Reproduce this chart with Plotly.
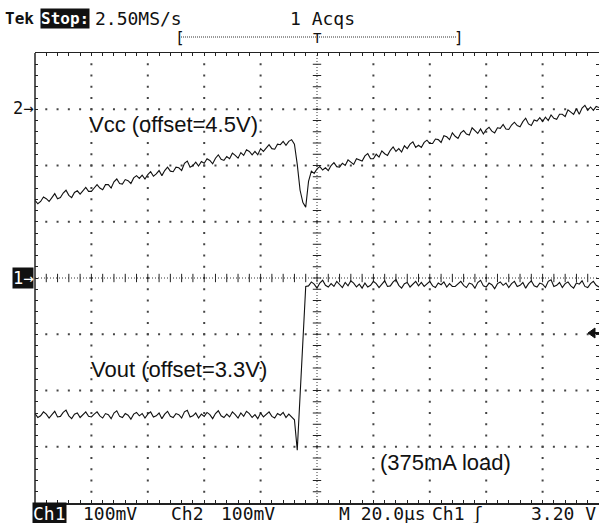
import plotly.graph_objects as go

# ---------------- figure geometry ----------------
W, H = 599, 523
ML, MR, MT, MB = 35, 0, 53, 20
PW, PH = W - ML - MR, H - MT - MB

# ---------------- scope settings ----------------
t_start_us = -100          # left edge of screen (trigger at centre)
sample_us = 1.0            # displayed sample spacing
time_div_us = 20
ch1_mv_div = 100           # Vout channel, offset 3.3 V, marker at centre
ch2_mv_div = 100           # Vcc channel, offset 4.5 V, marker 3 div above centre
ch2_marker_div = 3

# ---------------- data (mV relative to channel offset) ----------------
vcc_mv = [
    -162, -168, -164, -156, -159, -164, -157, -150, -159, -157, -149, -144, -153, -157, -148, -145, -151, -145, -139, -146,
    -146, -140, -134, -140, -143, -134, -134, -140, -129, -124, -132, -133, -125, -127, -132, -122, -118, -123, -117, -124,
    -116, -111, -119, -115, -109, -118, -109, -103, -110, -111, -103, -104, -109, -96, -92, -103, -100, -94, -101, -93,
    -96, -88, -91, -97, -87, -81, -89, -91, -84, -88, -78, -82, -87, -77, -82, -72, -75, -81, -75, -81,
    -70, -75, -69, -63, -70, -71, -62, -63, -57, -64, -57, -54,
    -62, -98, -144, -166, -174, -128, -110, -114, -106,
    -102, -108, -104, -109, -100, -95, -102, -103, -96, -100, -90, -94, -98, -88, -90, -92, -83, -79, -88, -88,
    -80, -85, -74, -79, -82, -73, -67, -75, -70, -76, -65, -70, -62, -58, -68, -64, -68, -59, -55, -61,
    -61, -53, -54, -59, -47, -49, -54, -42, -48, -52, -42, -38, -44, -46, -33, -39, -43, -35, -44, -36,
    -32, -39, -42, -33, -34, -27, -35, -36, -28, -23, -29, -31, -22, -16, -26, -29, -19, -21, -15, -22,
    -14, -20, -10, -16, -18, -9, -9, -13, -1, -5, -9, 1, -9, 2, 7, -2, 4, -2, 5, 3,
]

vout_mv = [
    -241, -248, -245, -238, -242, -249, -243, -237, -247, -246, -239, -235, -245, -250, -242, -240, -248, -243, -238, -246,
    -247, -242, -238, -245, -249, -241, -243, -250, -240, -236, -246, -248, -241, -244, -251, -242, -239, -245, -241, -249,
    -242, -238, -247, -245, -240, -250, -242, -237, -246, -248, -241, -243, -249, -238, -235, -247, -245, -240, -249, -242,
    -246, -239, -243, -250, -241, -236, -245, -248, -242, -247, -238, -243, -249, -240, -246, -237, -241, -248, -243, -250,
    -240, -247, -242, -238, -246, -249, -241, -244, -239, -248, -242, -247,
    -252, -306, -200, -95, -15,
    -14, -7, -11, -18, -9, -4, -13, -16, -10, -15, -6, -11, -17, -8, -14, -5, -9, -16, -11, -18,
    -9, -16, -13, -6, -10, -17, -11, -5, -15, -14, -7, -3, -13, -18, -10, -8, -16, -11, -6, -14,
    -8, -15, -10, -6, -14, -17, -9, -12, -7, -16, -10, -15, -15, -10, -6, -13, -17, -9, -11, -18,
    -8, -4, -14, -16, -9, -12, -19, -10, -7, -13, -9, -17, -10, -6, -15, -13, -8, -18, -10, -5,
    -14, -16, -9, -11, -17, -6, -3, -15, -13, -8, -17, -10, -7, -14, -18, -9, -11, -5, -15, -17,
    -10, -6, -13, -16,
]

t_us = [t_start_us + i * sample_us for i in range(len(vcc_mv))]

# screen extents
X0, X1 = t_start_us, t_start_us + 10 * time_div_us
Y0, Y1 = -4 * ch1_mv_div, 4 * ch1_mv_div
Y2_0 = (-4 - ch2_marker_div) * ch2_mv_div
Y2_1 = (4 - ch2_marker_div) * ch2_mv_div

minor_x = time_div_us / 5
minor_y = ch1_mv_div / 5


def px(x):
    return (x - ML) / PW


def py(y):
    return (H - MB - y) / PH


fig = go.Figure()

# ---------------- graticule dots ----------------
gx, gy = [], []
for k in range(-3, 4):
    if k == 0:
        continue
    yv = k * ch1_mv_div
    for i in range(1, 50):
        gx.append(X0 + i * minor_x)
        gy.append(yv)
for k in range(1, 10):
    if k == 5:
        continue
    xv = X0 + k * time_div_us
    for j in range(1, 40):
        gx.append(xv)
        gy.append(Y0 + j * minor_y)
fig.add_trace(go.Scatter(x=gx, y=gy, mode="markers", hoverinfo="skip",
                         marker=dict(symbol="square", size=2, color="#444444", line=dict(width=0))))

# centre cross tick marks
cx = [X0 + i * minor_x for i in range(1, 50)]
fig.add_trace(go.Scatter(x=cx, y=[0] * len(cx), mode="markers", hoverinfo="skip",
                         marker=dict(symbol="line-ns", size=6, line=dict(width=1, color="#222222"))))
cy = [Y0 + j * minor_y for j in range(1, 40)]
fig.add_trace(go.Scatter(x=[0] * len(cy), y=cy, mode="markers", hoverinfo="skip",
                         marker=dict(symbol="line-ew", size=6, line=dict(width=1, color="#222222"))))

# ---------------- waveforms ----------------
fig.add_trace(go.Scatter(x=t_us, y=vout_mv, mode="lines", name="Vout (Ch1)",
                         line=dict(color="#111111", width=1.1)))
fig.add_trace(go.Scatter(x=t_us, y=vcc_mv, mode="lines", name="Vcc (Ch2)", yaxis="y2",
                         line=dict(color="#111111", width=1.1)))

shapes = [
    # centre cross dotted lines
    dict(type="line", xref="x", yref="y", x0=X0, x1=X1, y0=0, y1=0,
         line=dict(color="#333333", width=1, dash="1px,2px")),
    dict(type="line", xref="x", yref="y", x0=0, x1=0, y0=Y0, y1=Y1,
         line=dict(color="#333333", width=1, dash="1px,2px")),
    # left border
    dict(type="line", xref="paper", yref="paper", x0=0, x1=0, y0=0, y1=1,
         line=dict(color="#222222", width=1.5)),
    # record-length bracket line
    dict(type="line", xref="paper", yref="paper", x0=px(179), x1=px(456), y0=py(37), y1=py(37),
         line=dict(color="#333333", width=1, dash="1px,1px")),
    # trigger level arrow (right edge)
    dict(type="path", xref="paper", yref="paper",
         path=f"M {px(588)},{py(333)} L {px(595)},{py(328)} L {px(595)},{py(338)} Z",
         fillcolor="#111111", line=dict(color="#111111", width=1)),
    dict(type="line", xref="paper", yref="paper", x0=px(594), x1=px(599), y0=py(333), y1=py(333),
         line=dict(color="#111111", width=2)),
]

SCOPE_FONT = "DejaVu Sans Mono"
LABEL_FONT = "Liberation Sans"


def ann(text, x, y, xanchor="left", size=18, color="#111111", bg=None, family=SCOPE_FONT, weight="normal"):
    d = dict(text=text, x=px(x), y=py(y), xref="paper", yref="paper", showarrow=False,
             xanchor=xanchor, yanchor="middle",
             font=dict(family=family, size=size, color=color, weight=weight))
    if bg:
        d["bgcolor"] = bg
        d["borderpad"] = 0
    return d


annotations = [
    ann("Tek", 3, 19, weight="bold", size=16),
    ann("Stop:", 40, 19, color="white", bg="#111111", weight="bold", size=16),
    ann("2.50MS/s", 93, 19),
    ann("1 Acqs", 288, 19),
    ann("[", 173, 37, size=16),
    ann("]", 459, 37, size=16, xanchor="center"),
    ann("T", 317, 38, size=14, xanchor="center"),
    ann("2→", 35, 108, xanchor="right", size=17),
    ann("1→", 34, 278, xanchor="right", size=17, color="white", bg="#111111"),
    ann("Vcc (offset=4.5V)", 173, 124, xanchor="center", size=22, family=LABEL_FONT),
    ann("Vout (offset=3.3V)", 179, 369, xanchor="center", size=22, family=LABEL_FONT),
    ann("(375mA load)", 445, 462, xanchor="center", size=22, family=LABEL_FONT),
    ann("Ch1", 49, 513, xanchor="center", color="white", bg="#111111"),
    ann("100mV", 110, 513, xanchor="center"),
    ann("Ch2", 187, 513, xanchor="center"),
    ann("100mV", 248, 513, xanchor="center"),
    ann("M 20.0µs", 382, 513, xanchor="center"),
    ann("Ch1", 448, 513, xanchor="center"),
    ann("ʃ", 477, 513, xanchor="center"),
    ann("3.20 V", 598, 513, xanchor="right"),
]

fig.update_layout(
    width=W, height=H,
    margin=dict(l=ML, r=MR, t=MT, b=MB, pad=0),
    paper_bgcolor="white", plot_bgcolor="white",
    showlegend=False,
    shapes=shapes,
    annotations=annotations,
    xaxis=dict(range=[X0, X1], showgrid=False, zeroline=False, showticklabels=False,
               tickmode="array", tickvals=[X0 + i * minor_x for i in range(1, 50)],
               ticks="inside", ticklen=3, tickwidth=1, tickcolor="#222222",
               showline=True, linecolor="#222222", linewidth=1.5, mirror="ticks", fixedrange=True),
    yaxis=dict(range=[Y0, Y1], showgrid=False, zeroline=False, showticklabels=False,
               tickmode="array", tickvals=[Y0 + j * minor_y for j in range(1, 40)],
               ticks="inside", ticklen=3, tickwidth=1, tickcolor="#222222",
               showline=False, mirror="ticks", fixedrange=True),
    yaxis2=dict(range=[Y2_0, Y2_1], overlaying="y", visible=False, fixedrange=True),
)

fig.write_html(
    "out.html",
    config={"displayModeBar": False, "staticPlot": True},
    post_script="document.body.style.margin='0';document.body.style.overflow='hidden';",
)
